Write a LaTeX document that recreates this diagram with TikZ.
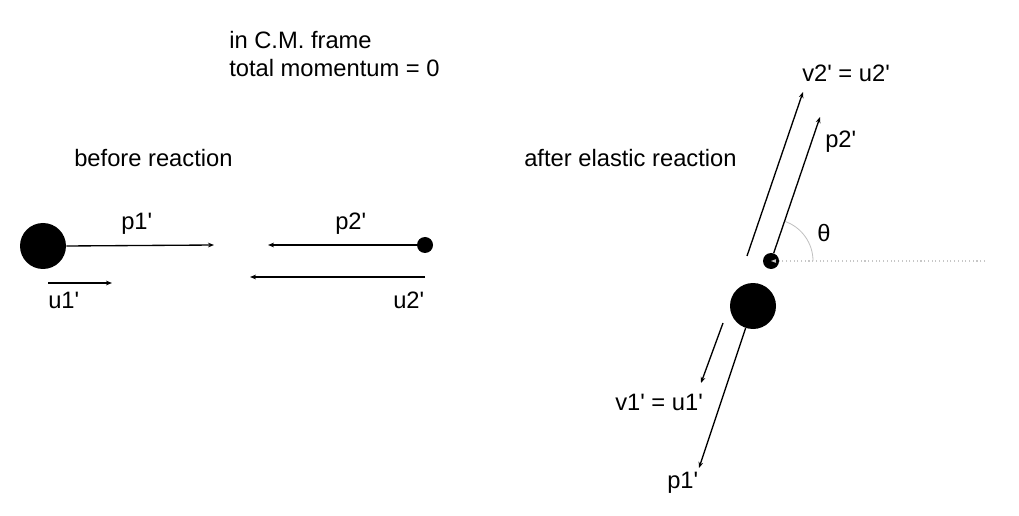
\documentclass[tikz,border=0pt]{standalone}
\usepackage{fontspec}
\setmainfont{Liberation Sans}
\usetikzlibrary{arrows.meta}
\newcommand\apos{\textquotesingle}
\begin{document}
\begin{tikzpicture}[x=0.75pt,y=-0.75pt,
  ball/.style={circle,fill=black,inner sep=0pt,minimum size=#1},
  vec/.style={line width=1pt,-{Stealth[length=4.5pt,width=3.5pt]}},
  lbl/.style={font=\fontsize{17.8pt}{21pt}\selectfont,inner sep=0pt},
  guide/.style={draw=black!22,line width=0.8pt}]
\useasboundingbox (0,0) rectangle (1019,516);
% headings
\node[lbl,anchor=base west] (h1) at (229,49) {in C.M. frame};
\node[lbl,anchor=base west] (h2) at (229,77) {total momentum = 0};
\node[lbl,anchor=base west] (h3) at (74,167) {before reaction};
\node[lbl,anchor=base west] (h4) at (524,167) {after elastic reaction};
% before
\node[ball=46*0.75pt] (b1) at (43,246) {};
\node[ball=16*0.75pt] (s1) at (425,245) {};
\coordinate (p1tip) at (214,245);
\coordinate (p2tip) at (268,245);
\draw[vec] (b1.east) -- (p1tip);
\draw[vec] (s1.west) -- (p2tip);
\coordinate (u1s) at (48,283);
\coordinate (u1e) at (112,283);
\coordinate (u2s) at (425,277);
\coordinate (u2e) at (250,277);
\draw[vec] (u1s) -- (u1e);
\draw[vec] (u2s) -- (u2e);
\node[lbl,anchor=base west] (lp1) at (121,230) {p1\apos};
\node[lbl,anchor=base west] (lp2) at (335,230) {p2\apos};
\node[lbl,anchor=base west] (lu1) at (48,308) {u1\apos};
\node[lbl,anchor=base west] (lu2) at (393,308) {u2\apos};
% after
\node[ball=16*0.75pt] (s2) at (771,261) {};
\node[ball=46*0.75pt] (b2) at (753,306) {};
\coordinate (dotend) at (985,261);
\draw[guide,dotted,-{Stealth[length=4pt,width=3pt]}] (dotend) -- (s2.center);
\draw[draw=black!25,line width=0.6pt] ([shift={(0:42)}]s2.center) arc[start angle=0,end angle=71,radius=42*0.75pt];
\coordinate (p2tipb) at (820,117);
\draw[vec] (s2) -- (p2tipb);
\coordinate (v2s) at (747,256);
\coordinate (v2e) at (803,92);
\draw[vec] (v2s) -- (v2e);
\coordinate (p1tipb) at (699,468);
\draw[vec] (b2) -- (p1tipb);
\coordinate (v1s) at (723,323);
\coordinate (v1e) at (701,383);
\draw[vec] (v1s) -- (v1e);
\node[lbl,anchor=base west] (lv2) at (802,82) {v2\apos{} = u2\apos};
\node[lbl,anchor=base west] (lp2b) at (825,148) {p2\apos};
\node[lbl] (lth) at (824,233) {θ};
\node[lbl,anchor=base west] (lv1) at (615,410) {v1\apos{} = u1\apos};
\node[lbl,anchor=base west] (lp1b) at (667,488) {p1\apos};
\end{tikzpicture}
\end{document}
